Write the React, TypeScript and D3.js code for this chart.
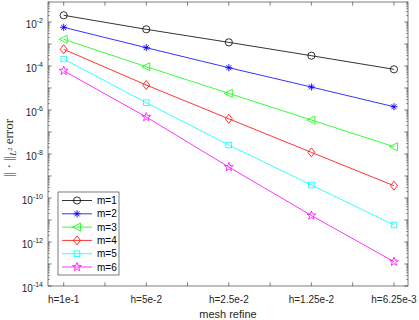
import React from 'react';
import { scaleLinear, scaleLog, line, range } from 'd3';

// mesh sizes along x
const categories = ['h=1e-1', 'h=5e-2', 'h=2.5e-2', 'h=1.25e-2', 'h=6.25e-3'];
const seriesNames = ['m=1', 'm=2', 'm=3', 'm=4', 'm=5', 'm=6'];
const m1 = [2.02e-2, 4.66e-3, 1.19e-3, 2.94e-4, 7.08e-5];
const m2 = [5.74e-3, 6.79e-4, 8.38e-5, 1.11e-5, 1.41e-6];
const m3 = [1.64e-3, 9.3e-5, 5.74e-6, 3.5e-7, 2.15e-8];
const m4 = [5.74e-4, 1.37e-5, 3.98e-7, 1.19e-8, 3.62e-10];
const m5 = [2.08e-4, 2.15e-6, 2.56e-8, 3.9e-10, 5.93e-12];
const m6 = [6.11e-5, 4.8e-7, 2.56e-9, 1.6e-11, 1.27e-13];
const yTickExponents = [-14, -12, -10, -8, -6, -4, -2];

const seriesValues = [m1, m2, m3, m4, m5, m6];
const colors = ['#000000', '#0000ff', '#00ff00', '#ff0000', '#00ffff', '#ff00ff'];
const markers = ['circle', 'asterisk', 'triangle', 'diamond', 'square', 'pentagram'];

const W = 419, H = 320;
const left = 48, right = 408, top = 2, bottom = 286;
const axisColor = '#262626';

function Marker({ kind, x, y, color }: { kind: string; x: number; y: number; color: string }) {
  const common = { fill: 'none', stroke: color, strokeWidth: 0.8 };
  if (kind === 'circle') return <circle cx={x} cy={y} r={3.6} {...common} />;
  if (kind === 'square') return <rect x={x - 2.8} y={y - 2.8} width={5.6} height={5.6} {...common} />;
  if (kind === 'diamond')
    return <polygon points={`${x},${y - 4.5} ${x + 3.5},${y} ${x},${y + 4.5} ${x - 3.5},${y}`} {...common} />;
  if (kind === 'triangle')
    return <polygon points={`${x - 4.5},${y} ${x + 3.5},${y - 4} ${x + 3.5},${y + 4}`} {...common} />;
  if (kind === 'asterisk') {
    const r = 3.6, d = r * 0.7;
    return (
      <g stroke={color} strokeWidth={0.9}>
        <line x1={x} y1={y - r} x2={x} y2={y + r} />
        <line x1={x - r} y1={y} x2={x + r} y2={y} />
        <line x1={x - d} y1={y - d} x2={x + d} y2={y + d} />
        <line x1={x - d} y1={y + d} x2={x + d} y2={y - d} />
      </g>
    );
  }
  // pentagram
  const pts = range(10).map((i) => {
    const a = -Math.PI / 2 + (i * Math.PI) / 5;
    const r = i % 2 === 0 ? 4.6 : 1.9;
    return `${x + r * Math.cos(a)},${y + r * Math.sin(a)}`;
  });
  return <polygon points={pts.join(' ')} {...common} />;
}

export default function App() {
  const x = scaleLinear().domain([-0.19, 4.17]).range([left, right]);
  const y = scaleLog().domain([1e-14, Math.pow(10, -1.09)]).range([bottom, top]);

  const path = line<number>()
    .x((_, i) => x(i))
    .y((d) => y(d));

  const xTicks = range(0, 4.01, 0.5);
  const majorY = range(-14, -1).map((e) => Math.pow(10, e));
  const minorY: number[] = [];
  range(-14, -1).forEach((e) => {
    for (let k = 2; k <= 9; k++) {
      const v = k * Math.pow(10, e);
      if (v <= Math.pow(10, -1.09)) minorY.push(v);
    }
  });

  const legX = 58, legY = 192, legW = 61, legH = 83;

  return (
    <div style={{ position: 'absolute', left: 0, top: 0 }}>
      <svg width={W} height={H} style={{ display: 'block', fontFamily: 'Liberation Sans, Arial, sans-serif' }}>
        <rect x={0} y={0} width={W} height={H} fill="#ffffff" />
        <rect x={left} y={top} width={right - left} height={bottom - top} fill="#ffffff" />

        {/* x ticks top & bottom */}
        {xTicks.map((t) => (
          <g key={'xt' + t} stroke={axisColor} strokeWidth={0.6}>
            <line x1={x(t)} x2={x(t)} y1={bottom} y2={bottom - 3.6} />
            <line x1={x(t)} x2={x(t)} y1={top} y2={top + 3.6} />
          </g>
        ))}
        {/* y ticks left & right */}
        {majorY.map((v) => (
          <g key={'ym' + v} stroke={axisColor} strokeWidth={0.6}>
            <line x1={left} x2={left + 3.6} y1={y(v)} y2={y(v)} />
            <line x1={right} x2={right - 3.6} y1={y(v)} y2={y(v)} />
          </g>
        ))}
        {minorY.map((v) => (
          <g key={'yn' + v} stroke={axisColor} strokeWidth={0.5}>
            <line x1={left} x2={left + 1.8} y1={y(v)} y2={y(v)} />
            <line x1={right} x2={right - 1.8} y1={y(v)} y2={y(v)} />
          </g>
        ))}

        {/* series */}
        {seriesValues.map((vals, si) => (
          <g key={'s' + si}>
            <path d={path(vals) || ''} fill="none" stroke={colors[si]} strokeWidth={0.8} />
            {vals.map((v, i) => (
              <Marker key={i} kind={markers[si]} x={x(i)} y={y(v)} color={colors[si]} />
            ))}
          </g>
        ))}

        {/* axes box */}
        <rect x={left} y={top} width={right - left} height={bottom - top} fill="none" stroke={axisColor} strokeWidth={0.6} />

        {/* x tick labels */}
        {categories.map((c, i) => (
          <text key={c} x={x(i)} y={303} textAnchor="middle" fontSize={10} fill={axisColor}>
            {c}
          </text>
        ))}
        {/* y tick labels */}
        {yTickExponents.map((e) => (
          <text key={'yl' + e} x={43} y={y(Math.pow(10, e)) + 5.5} textAnchor="end" fontSize={10} fill={axisColor}>
            10<tspan dy={-5} fontSize={7}>{e}</tspan>
          </text>
        ))}

        <text x={(left + right) / 2} y={318} textAnchor="middle" fontSize={11} fill={axisColor}>
          mesh refine
        </text>
        <text
          transform={`translate(13,148) rotate(-90)`}
          textAnchor="middle"
          fontSize={13}
          fontFamily="Liberation Serif, Times New Roman, serif"
          fill={axisColor}
        >
          {'|| \u00b7 ||'}
          <tspan dy={2.5} fontStyle="italic" fontSize={9}>L</tspan>
          <tspan dy={-3.5} fontSize={6.5}>2</tspan>
          <tspan dy={1}> error</tspan>
        </text>

        {/* legend */}
        <rect x={legX} y={legY} width={legW} height={legH} fill="#ffffff" stroke={axisColor} strokeWidth={0.6} />
        {seriesNames.map((n, i) => {
          const ly = 200.5 + i * 13.3;
          return (
            <g key={n}>
              <line x1={62} x2={92} y1={ly} y2={ly} stroke={colors[i]} strokeWidth={0.8} />
              <Marker kind={markers[i]} x={77} y={ly} color={colors[i]} />
              <text x={97} y={ly + 3.5} fontSize={10} fill="#000">
                {n}
              </text>
            </g>
          );
        })}
      </svg>
    </div>
  );
}
